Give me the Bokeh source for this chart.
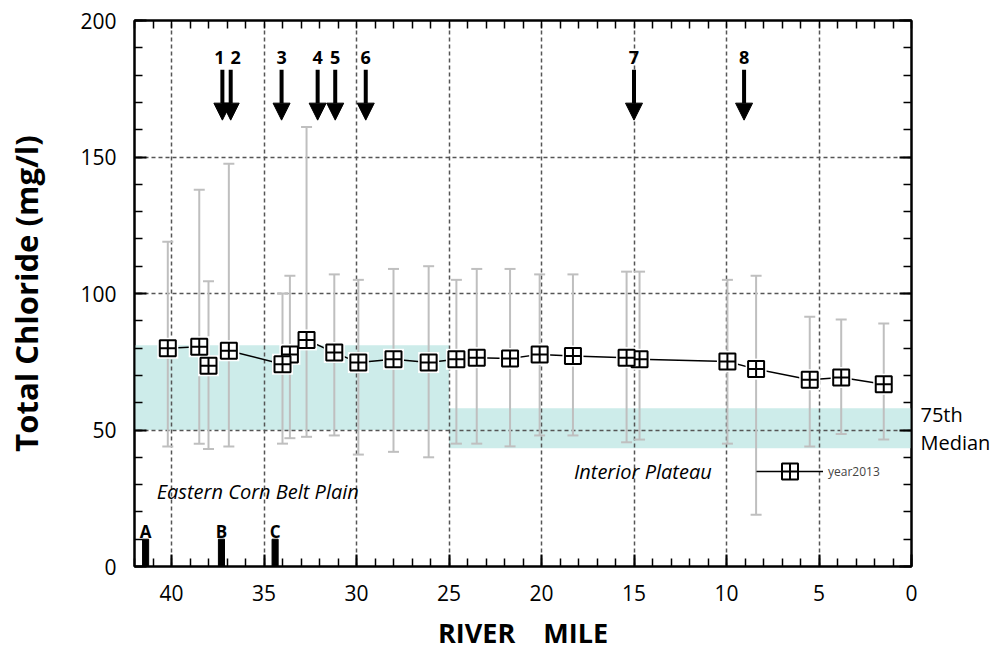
from bokeh.plotting import figure
from bokeh.models import (Range1d, LinearAxis, SingleIntervalTicker, FixedTicker, Label,
                          Arrow, NormalHead, Legend, LegendItem, ColumnDataSource,
                          CustomJSTickFormatter)
from bokeh.embed import file_html
from bokeh.resources import INLINE

# ---------------- data ----------------
river_mile = [40.2, 38.5, 38.0, 36.9, 34.0, 33.6, 32.7, 31.2, 29.9, 28.0, 26.1, 24.6,
              23.5, 21.7, 20.1, 18.3, 15.4, 14.7, 9.95, 8.4, 5.5, 3.8, 1.5]
chloride_mean = [79.9, 80.5, 73.5, 79.0, 74.1, 77.7, 83.0, 78.4, 74.7, 75.9, 74.7, 75.9,
                 76.5, 76.2, 77.7, 77.1, 76.5, 75.9, 75.1, 72.3, 68.4, 69.2, 66.8]
chloride_max = [119, 138, 104.5, 147.5, 100, 106.5, 161, 107, 105, 109, 110, 105,
                109, 109, 107, 107, 108, 108, 105, 106.5, 91.5, 90.5, 89]
chloride_min = [44, 45, 43, 44, 45, 47, 47.5, 48, 41, 42, 40, 45,
                45, 44, 48, 48, 45.5, 46.5, 45, 19, 44, 48.5, 46.5]

site_mile = [37.25, 36.8, 34.05, 32.1, 31.15, 29.5, 15.0, 9.05]
site_label = ["1", "2", "3", "4", "5", "6", "7", "8"]
site_label_nudge = [-3, 5, 0, 0, 0, 0, 0, 0]

trib_mile = [41.4, 37.3, 34.4]
trib_label = ["A", "B", "C"]
trib_height = [10, 10, 10]

eco_left = [42, 25]
eco_right = [25, 0]
eco_median = [50, 43.3]
eco_p75 = [81, 58]

band_label = ["75th", "Median"]
band_label_y = [55.5, 45.6]

FONT = "Open Sans"

p = figure(width=995, height=653, x_range=Range1d(42, 0), y_range=Range1d(0, 200),
           output_backend="svg", toolbar_location=None,
           min_border_left=134, min_border_right=84, min_border_top=20, min_border_bottom=85,
           x_axis_label="RIVER \u00a0\u00a0\u00a0MILE", y_axis_label="Total Chloride (mg/l)")
p.background_fill_color = "white"
p.border_fill_color = "white"
p.outline_line_color = "black"
p.outline_line_width = 2

# axes
for ax in (p.xaxis[0], p.yaxis[0]):
    ax.axis_line_width = 2
    ax.major_tick_line_width = 2
    ax.minor_tick_line_width = 1.5
    ax.major_tick_in = 12
    ax.major_tick_out = 0
    ax.minor_tick_in = 8
    ax.minor_tick_out = 0
    ax.major_label_text_font = FONT
    ax.major_label_text_font_size = "21px"
    ax.major_label_text_color = "black"
    ax.axis_label_text_font = FONT
    ax.axis_label_text_font_style = "bold"
    ax.axis_label_text_color = "black"
p.xaxis[0].axis_label_text_font_size = "27px"
p.yaxis[0].axis_label_text_font_size = "31px"
p.xaxis[0].ticker = SingleIntervalTicker(interval=5, num_minor_ticks=5)
p.yaxis[0].ticker = SingleIntervalTicker(interval=50, num_minor_ticks=5)
p.xaxis[0].major_label_standoff = 18
p.xaxis[0].axis_label_standoff = 10
p.yaxis[0].major_label_standoff = 18
p.yaxis[0].axis_label_standoff = 30

blank = CustomJSTickFormatter(code="return ''")
right_ax = LinearAxis(ticker=SingleIntervalTicker(interval=50, num_minor_ticks=5),
                      formatter=blank, major_label_text_font_size="0px",
                      major_label_standoff=0, axis_line_width=2, major_tick_line_width=2,
                      minor_tick_line_width=1.5, major_tick_in=12, major_tick_out=0,
                      minor_tick_in=8, minor_tick_out=0)
p.add_layout(right_ax, "right")

# text labels for the bands, carried by a bare right-hand axis
band_fmt = CustomJSTickFormatter(args=dict(ys=band_label_y, names=band_label),
                                 code="return names[ys.indexOf(tick)] || ''")
band_ax = LinearAxis(ticker=FixedTicker(ticks=band_label_y), formatter=band_fmt,
                     axis_line_color=None, major_tick_line_color=None,
                     minor_tick_line_color=None, major_tick_in=0, major_tick_out=0,
                     minor_tick_in=0, minor_tick_out=0, major_label_standoff=9,
                     major_label_text_font=FONT, major_label_text_font_size="20px",
                     major_label_text_color="black")
p.add_layout(band_ax, "right")

top_ax = LinearAxis(ticker=FixedTicker(ticks=[], minor_ticks=list(range(0, 43))),
                    formatter=blank, major_label_text_font_size="0px",
                    major_label_standoff=0, axis_line_width=2,
                    minor_tick_line_width=1.5, minor_tick_in=8, minor_tick_out=0,
                    major_tick_in=0, major_tick_out=0)
p.add_layout(top_ax, "above")

# grid
p.xgrid.ticker = FixedTicker(ticks=[40, 35, 30, 25, 20, 15, 10, 5])
p.ygrid.ticker = FixedTicker(ticks=[50, 100, 150])
for g in (p.xgrid[0], p.ygrid[0]):
    g.grid_line_color = "#555555"
    g.grid_line_dash = "4 3"
    g.grid_line_width = 1.5

# ecoregion median-75th bands
p.quad(left=eco_left, right=eco_right, bottom=eco_median, top=eco_p75,
       fill_color="#cdecea", line_color=None, level="image")

# whiskers
p.segment(x0=river_mile, y0=chloride_min, x1=river_mile, y1=chloride_max,
          line_color="#bfbfbf", line_width=2)
p.scatter(river_mile + river_mile, chloride_min + chloride_max, marker="dash",
          size=11, line_color="#bfbfbf", line_width=2)

# mean line and markers
line_r = p.line(river_mile, chloride_mean, line_color="black", line_width=1.5)
rx = river_mile[::-1]
ry = chloride_mean[::-1]
p.scatter(rx, ry, marker="square", size=21, fill_color="white", line_color=None)
mark_r = p.scatter(rx, ry, marker="square_cross", size=16, fill_color="white",
                   line_color="black", line_width=2)

# tributary bars
p.vbar(x=trib_mile, top=trib_height, bottom=0, width=0.33, fill_color="black",
       line_color="black")
for xm, t in zip(trib_mile, trib_label):
    p.add_layout(Label(x=xm, y=12.8, text=t, text_align="center", text_baseline="middle",
                       text_font=FONT, text_font_style="bold", text_font_size="17px",
                       text_color="black"))

# site arrows
asrc = ColumnDataSource(dict(x=site_mile, y0=[182] * len(site_mile),
                             y1=[163.5] * len(site_mile)))
p.add_layout(Arrow(end=NormalHead(size=17, fill_color="black", line_color="black"),
                   source=asrc, x_start="x", y_start="y0", x_end="x", y_end="y1",
                   line_color="black", line_width=4))
for xm, t, dx in zip(site_mile, site_label, site_label_nudge):
    p.add_layout(Label(x=xm, y=186.5, x_offset=dx, text=t, text_align="center",
                       text_baseline="middle", text_font=FONT, text_font_style="bold",
                       text_font_size="18px", text_color="black"))

# ecoregion names
p.add_layout(Label(x=40.8, y=27.4, text="Eastern Corn Belt Plain", text_align="left",
                   text_baseline="middle", text_font=FONT, text_font_style="italic",
                   text_font_size="20px", text_color="black"))
p.add_layout(Label(x=18.25, y=34.7, text="Interior Plateau", text_align="left",
                   text_baseline="middle", text_font=FONT, text_font_style="italic",
                   text_font_size="20px", text_color="black"))

# legend
legend = Legend(items=[LegendItem(label="year2013", renderers=[line_r, mark_r])],
                location=(622, 75), glyph_width=67, glyph_height=40, padding=0, margin=0,
                spacing=0, label_standoff=5, label_text_font=FONT,
                label_text_font_size="12px", background_fill_alpha=0,
                border_line_alpha=0)
p.add_layout(legend, "center")

open("out.html", "w").write(file_html(p, INLINE))
